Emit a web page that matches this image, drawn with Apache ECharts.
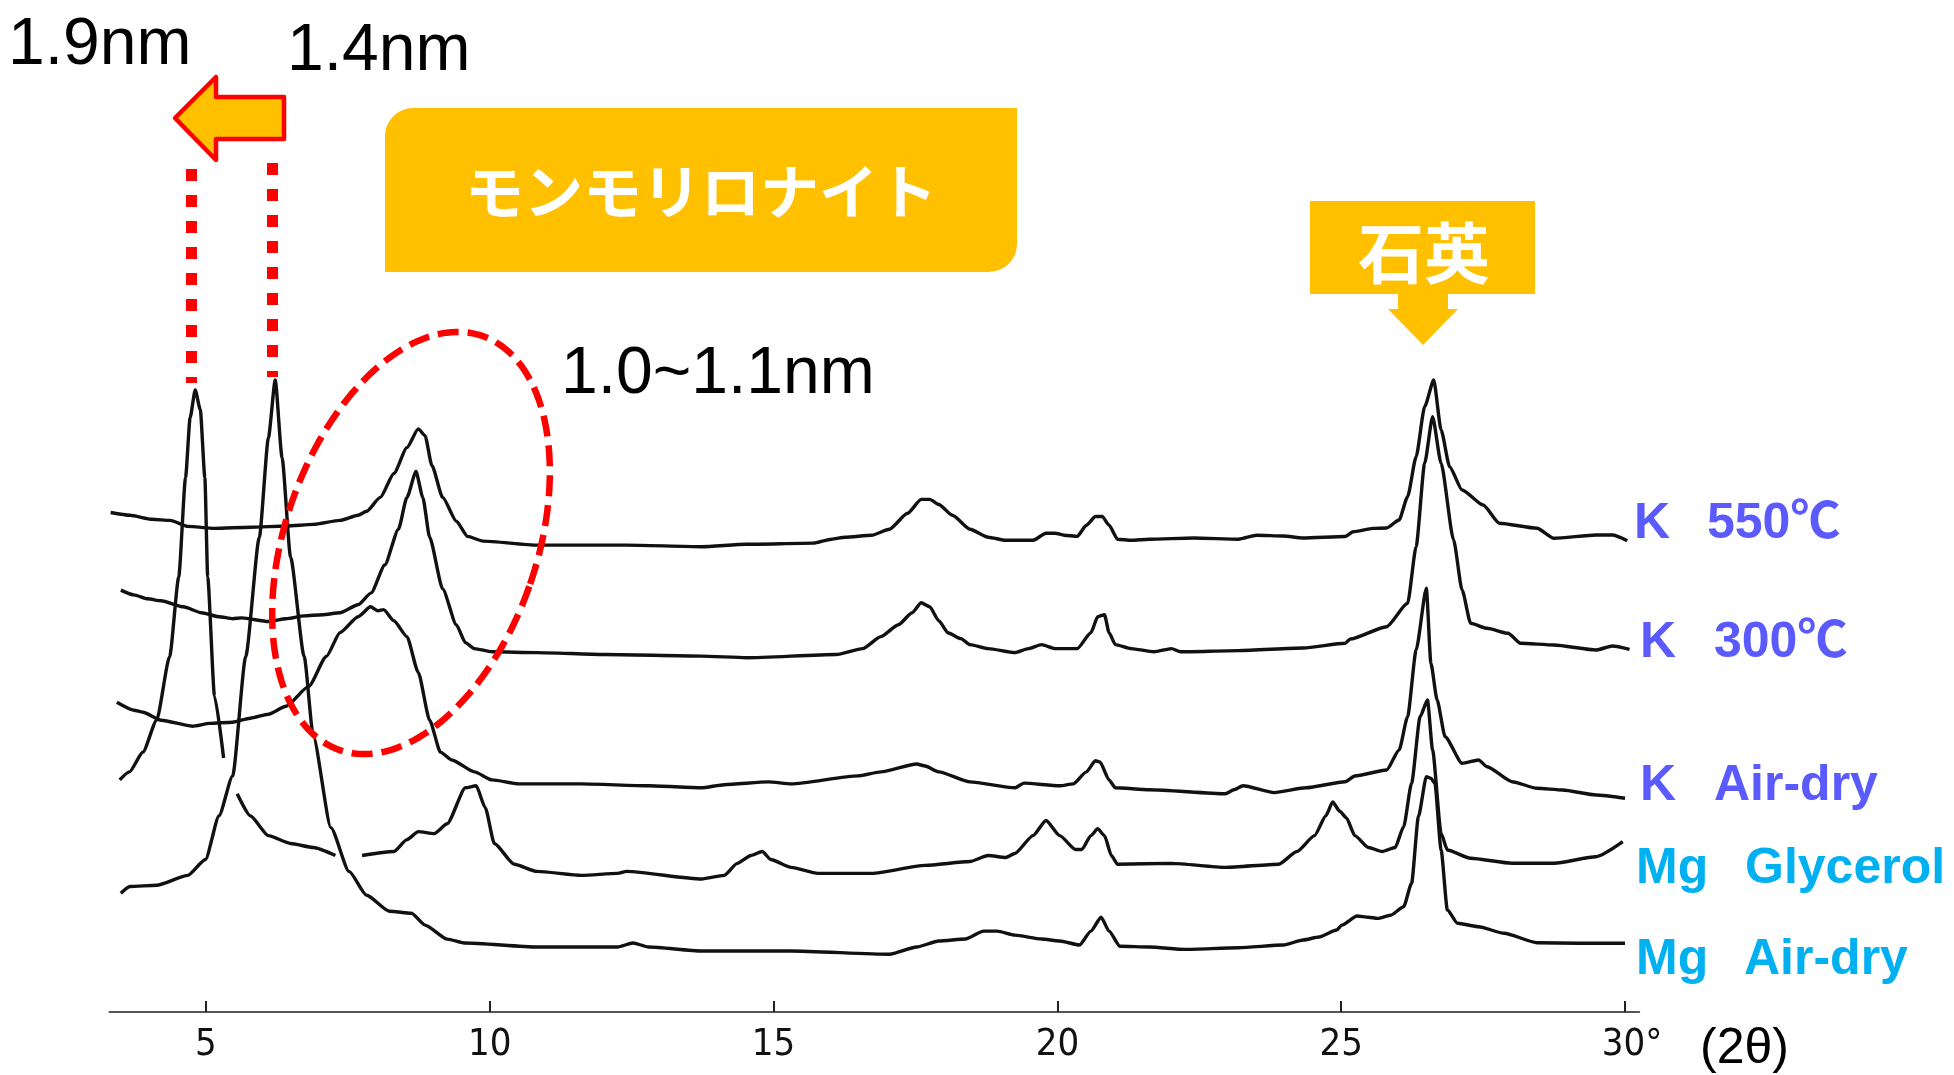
<!DOCTYPE html>
<html>
<head>
<meta charset="utf-8">
<title>XRD モンモリロナイト</title>
<script src="https://cdn.jsdelivr.net/npm/echarts@6/dist/echarts.min.js"></script>
<style>
  html, body { margin: 0; padding: 0; background: #ffffff; }
  #chart { width: 1954px; height: 1075px; }
</style>
</head>
<body>
<div id="chart"></div>
<script>
// 2θ axis ticks
const tickValues = [5, 10, 15, 20, 25, 30];
const tickLabels = ['5', '10', '15', '20', '25', '30°'];

// Sample treatments, top to bottom (cation  treatment)
const traceNames = ['K  550℃', 'K  300℃', 'K  Air-dry', 'Mg  Glycerol', 'Mg  Air-dry'];

// Stacked diffraction traces: [2θ (deg), intensity incl. vertical offset]
const k550 = [
  [3.32,499.5],[3.66,496.7],[4.05,492.7],[4.37,491.6],[4.68,485.6],[5.15,483.6],[5.78,484.8],[6.42,486],
  [6.89,487.6],[7.36,491.6],[7.68,496.7],[7.83,500.7],[8.07,514.6],[8.31,538.5],[8.54,564.4],[8.74,583.1],
  [8.86,576.3],[8.98,546.5],[9.17,514.6],[9.41,490.8],[9.61,475.6],[9.88,470.9],[10.83,466.9],[12.41,466.9],
  [13.73,465.3],[14.52,467.7],[15.70,468.9],[16.02,472.8],[16.26,474.8],[16.73,476.8],[17.04,482.8],[17.36,498.7],
  [17.60,512.6],[17.75,512.6],[17.91,507.5],[18.15,496.7],[18.46,482.8],[18.78,474.8],[19.09,471.7],[19.57,471.7],
  [19.80,478.8],[19.96,478.8],[20.12,476.8],[20.35,475.6],[20.51,486.8],[20.67,495.5],[20.79,495.5],[20.91,486.8],
  [21.06,472.8],[21.30,471.7],[21.62,472.8],[22.40,474.0],[23.19,472.8],[23.51,476.8],[23.98,476.0],[24.33,474],
  [25.07,475.5],[25.21,480.3],[25.56,483.6],[25.80,484],[26.02,492],[26.17,515.3],[26.32,555.3],[26.47,605.3],
  [26.63,632],[26.76,582],[26.91,545.3],[27.13,522],[27.50,507],[27.79,488.7],[28.45,483.7],[28.75,473.7],
  [29.49,477],[29.78,477],[30.04,471.3]
];
const k300 = [
  [3.50,421.9],[3.73,417.1],[3.97,413.2],[4.21,411.2],[4.60,405.2],[4.92,399.2],[5.23,395.3],[5.47,393.3],
  [5.63,394.1],[6.10,390.5],[6.41,393.3],[6.73,396.1],[7.05,397.3],[7.36,399.2],[7.68,407.2],[7.91,419.1],
  [8.15,447.0],[8.39,482.8],[8.54,514.6],[8.70,540.5],[8.82,514.6],[8.94,474.8],[9.17,423.1],[9.41,387.3],
  [9.57,369.4],[9.73,363.4],[10.04,360.2],[10.83,359.4],[12.01,357.5],[13.73,355.9],[14.52,354.3],[16.10,357.5],
  [16.57,363.4],[16.89,375.4],[17.20,387.3],[17.44,399.2],[17.60,409.2],[17.75,405.2],[17.91,391.3],[18.07,379.3],
  [18.30,373.4],[18.46,367.4],[18.78,363.4],[19.25,359.4],[19.49,363.4],[19.72,367.4],[19.96,363.4],[20.35,363.4],
  [20.59,379.3],[20.71,395.3],[20.83,397.3],[20.91,379.3],[21.02,367.4],[21.30,363.4],[21.70,360.2],[22.01,363.4],
  [22.17,360.2],[23.19,361.4],[24.33,364],[25.07,368.7],[25.16,373],[25.80,385.3],[26.17,408.7],[26.32,465.3],
  [26.47,548.7],[26.61,595.3],[26.76,548.7],[26.98,472],[27.13,422],[27.28,388.7],[27.57,383.7],[27.94,378.7],
  [28.16,368.7],[28.75,367],[29.49,362],[29.78,366],[30.08,362.7]
];
const kAirDry = [
  [3.43,309.7],[3.73,301.8],[3.89,299.8],[4.21,291.8],[4.76,285.8],[5.07,288.6],[5.47,289.8],[5.78,293.8],
  [6.10,297.8],[6.41,305.7],[6.81,325.6],[7.12,355.5],[7.36,379.3],[7.68,395.3],[7.90,405.2],[8.03,401.2],
  [8.13,402.4],[8.31,391.3],[8.54,375.4],[8.74,339.6],[8.94,291.8],[9.13,259.9],[9.33,252],[9.73,240.1],
  [10.04,232.1],[10.51,228.1],[11.62,228.1],[12.80,226.2],[13.73,224.2],[14.13,227.3],[14.91,230.1],[15.31,228.1],
  [16.49,236.1],[16.89,240.1],[17.52,248.0],[17.67,246.0],[17.91,240.1],[18.46,230.1],[19.25,224.2],[19.41,228.9],
  [20.04,226.2],[20.28,228.1],[20.51,240.1],[20.67,251.2],[20.75,250.0],[20.91,232.1],[21.02,224.2],[21.62,222.2],
  [22.96,218.2],[23.11,222.2],[23.27,226.2],[23.82,219.4],[24.38,224.2],[25.07,230.3],[25.24,236],[25.80,242],
  [26.02,262],[26.17,295.3],[26.32,362],[26.50,423.7],[26.58,348.7],[26.69,312],[26.83,275.3],[27.13,248.7],
  [27.42,252],[27.57,245.3],[28.01,230.3],[28.45,223.7],[28.90,222],[29.49,217],[30.00,213.7]
];
const mgGlycerol = [
  [3.48,232.1],[3.65,240.1],[3.89,260],[4.13,291.8],[4.36,355.5],[4.52,435.0],[4.64,534.5],[4.72,594.2],
  [4.81,622.1],[4.90,602.2],[4.98,534.5],[5.03,435.0],[5.15,315.7],[5.31,254.0],[5.43,'-'],[5.55,218.2],
  [5.78,196.3],[6.10,176.4],[6.49,168.5],[6.89,164.5],[7.28,156.5],[7.50,'-'],[7.75,156.5],[8.31,160.5],
  [8.54,172.4],[8.74,180.4],[9.02,178.4],[9.25,188.3],[9.57,224.2],[9.76,226.2],[9.92,204.3],[10.08,168.5],
  [10.43,147.8],[10.83,140.6],[11.62,136.6],[12.25,138.6],[12.41,140.6],[13.73,133],[14.13,136.6],[14.36,148.6],
  [14.60,156.5],[14.80,160.5],[14.95,152.5],[15.31,144.6],[15.78,138.6],[16.73,138.6],[17.67,146.6],[18.46,150.5],
  [18.78,156.5],[19.09,154.5],[19.25,158.5],[19.57,176.4],[19.80,191.5],[20.04,176.4],[20.32,162.5],[20.43,162.5],
  [20.59,176.4],[20.71,183.2],[20.83,176.4],[20.95,156.5],[21.06,147.8],[22.01,148.6],[22.96,144.6],[23.90,147.8],
  [24.22,160.5],[24.53,176.4],[24.73,196.3],[24.85,210],[24.97,201],[25.09,194.3],[25.24,176.4],[25.48,164.5],
  [25.72,160.5],[25.95,164.5],[26.10,185.3],[26.24,228.7],[26.39,295.3],[26.52,312],[26.61,262],[26.76,178.7],
  [26.87,162],[27.28,153.7],[28.01,148.7],[28.75,148.7],[29.49,155.3],[29.96,170.3]
];
const mgAirDry = [
  [3.50,118.7],[3.66,125.5],[4.13,126.7],[4.68,136.6],[4.99,152.5],[5.23,196.3],[5.47,236.1],[5.70,355.5],
  [5.94,474.8],[6.10,574.3],[6.22,632],[6.34,554.4],[6.49,454.9],[6.73,355.5],[6.89,275.9],[7.20,184.4],
  [7.52,140.6],[7.83,116.7],[8.23,100.8],[8.62,98.8],[8.86,86.9],[9.25,72.9],[9.57,69.0],[10.83,65.0],
  [12.25,65.0],[12.52,69.0],[12.80,65.0],[13.73,61.0],[15.31,61.0],[17.04,57.8],[17.52,65.0],[17.91,71.0],
  [18.38,73.0],[18.70,80.9],[18.94,80.9],[19.25,76.9],[19.72,73.0],[20.04,71.0],[20.39,67.0],[20.59,80.9],
  [20.77,94.8],[20.91,80.9],[21.10,65.8],[21.62,65.0],[22.25,62.6],[23.19,64.2],[23.98,67.0],[24.33,72],
  [24.61,75.0],[24.92,82],[25.01,86.9],[25.28,96],[25.48,94.8],[25.64,93.6],[25.87,96.8],[26.10,105.3],
  [26.24,128.7],[26.36,195.3],[26.50,235.3],[26.58,233.7],[26.65,228.7],[26.76,162],[26.87,102],[27.05,88.7],
  [27.42,85.3],[27.87,78.7],[28.45,69.3],[29.19,68.7],[30.00,68.7]
];

// Dotted guides at the 1.9 nm and 1.4 nm basal reflections: [2θ, lower, upper]
const guide19 = [4.735, 629, 843];
const guide14 = [6.167, 635, 849];

const traces = [k550, k300, kAirDry, mgGlycerol, mgAirDry];

// Rotated ellipse outline (dashed ring around the 1.0–1.1 nm region)
function ellipsePoints(cx, cy, a, b, deg, n) {
  const r = deg * Math.PI / 180;
  const ux = Math.cos(r), uy = Math.sin(r);      // minor-axis direction
  const vx = Math.sin(r), vy = -Math.cos(r);     // major-axis direction
  const pts = [];
  for (let i = 0; i < n; i++) {
    const t = (i / n) * Math.PI * 2;
    const p = b * Math.cos(t), q = a * Math.sin(t);
    pts.push([cx + p * ux + q * vx, cy + p * uy + q * vy]);
  }
  return pts;
}

const chart = echarts.init(document.getElementById('chart'), null, { renderer: 'canvas' });

const series = traces.map((d, i) => ({
  name: traceNames[i],
  type: 'line',
  data: d,
  showSymbol: false,
  symbol: 'none',
  smooth: 0.2,
  smoothMonotone: 'x',
  connectNulls: false,
  clip: false,
  lineStyle: { color: '#111111', width: 3.4 },
  silent: true,
  z: 2
}));

series[3].markLine = {
  silent: true,
  symbol: ['none', 'none'],
  label: { show: false },
  lineStyle: { color: '#FF0000', width: 11, type: [12, 14], cap: 'butt' },
  data: [
    [{ coord: [guide19[0], guide19[2]] }, { coord: [guide19[0], guide19[1]] }],
    [{ coord: [guide14[0], guide14[2]] }, { coord: [guide14[0], guide14[1]] }]
  ]
};

const labelFont = '"Liberation Sans", Arial, "Noto Sans CJK JP", sans-serif';
const kColor = '#5A5AFF';
const mgColor = '#00B0F0';
// [cation x, treatment x, centre y, colour]
const labelPos = [
  [1634, 1707, 524, kColor],
  [1640, 1714, 643, kColor],
  [1640, 1714, 786, kColor],
  [1636, 1745, 869, mgColor],
  [1636, 1744, 960, mgColor]
];

const graphic = [];
labelPos.forEach((p, i) => {
  const parts = traceNames[i].split(/\s+/);
  [[parts[0], p[0]], [parts.slice(1).join(' '), p[1]]].forEach(([txt, x]) => {
    graphic.push({
      type: 'text', x: x, y: p[2], z: 50,
      style: { text: txt, fill: p[3], fontSize: 50, fontWeight: 'bold', fontFamily: labelFont,
               align: 'left', verticalAlign: 'middle' }
    });
  });
});

// d-spacing captions
[['1.9nm', 8, 46], ['1.4nm', 287, 52], ['1.0~1.1nm', 561, 375]].forEach(t => {
  graphic.push({
    type: 'text', x: t[1], y: t[2], z: 50,
    style: { text: t[0], fill: '#000', fontSize: 66, fontFamily: labelFont, align: 'left', verticalAlign: 'middle' }
  });
});

// left-pointing shift arrow
graphic.push({
  type: 'polygon', z: 50,
  shape: { points: [[175, 118], [216, 77], [216, 97], [284, 97], [284, 139], [216, 139], [216, 160]] },
  style: { fill: '#FFC000', stroke: '#FF0000', lineWidth: 4.5, lineJoin: 'round' }
});

// mineral name box
graphic.push({
  type: 'rect', z: 50,
  shape: { x: 385, y: 108, width: 632, height: 164, r: [28, 0, 28, 0] },
  style: { fill: '#FFC000' }
});
graphic.push({
  type: 'text', x: 701, y: 192, z: 51,
  style: { text: 'モンモリロナイト', fill: '#fff', fontSize: 59, fontWeight: 'bold',
           fontFamily: '"Noto Sans CJK JP", sans-serif', align: 'center', verticalAlign: 'middle' }
});

// quartz callout with downward pointer
graphic.push({
  type: 'polygon', z: 50,
  shape: { points: [[1310, 201], [1535, 201], [1535, 294], [1448, 294], [1448, 309], [1458, 309], [1423, 345],
                    [1388, 309], [1398, 309], [1398, 294], [1310, 294]] },
  style: { fill: '#FFC000' }
});
graphic.push({
  type: 'text', x: 1424, y: 253, z: 51,
  style: { text: '石英', fill: '#fff', fontSize: 66, fontWeight: 'bold', fontFamily: '"Noto Sans CJK JP", sans-serif',
           align: 'center', verticalAlign: 'middle' }
});

// dashed ellipse
graphic.push({
  type: 'polygon', z: 60,
  shape: { points: ellipsePoints(411, 543, 219, 126, 19, 180) },
  style: { fill: 'none', stroke: '#FF0000', lineWidth: 6.5, lineDash: [21, 9] }
});

// axis unit
graphic.push({
  type: 'text', x: 1700, y: 1049, z: 50,
  style: { text: '(2θ)', fill: '#000', fontSize: 50, fontFamily: labelFont, align: 'left', verticalAlign: 'middle' }
});

const tickFont = '"DejaVu Sans Condensed", "Liberation Sans Narrow", "Liberation Sans", sans-serif';

chart.setOption({
  animation: false,
  backgroundColor: '#ffffff',
  grid: { left: 109.5, right: 314.8, top: 0, bottom: 58, containLabel: false },
  xAxis: {
    type: 'value',
    min: 3.3,
    max: 30.25,
    splitLine: { show: false },
    axisLine: { show: true, lineStyle: { color: '#555555', width: 2 } },
    axisTick: { show: true, inside: true, length: 11, customValues: tickValues,
                lineStyle: { color: '#222', width: 2 } },
    axisLabel: {
      show: true, customValues: tickValues, margin: 9,
      formatter: v => {
        const s = tickLabels[tickValues.indexOf(v)];
        return s.indexOf('°') >= 0 ? '{deg|' + s + '}' : s;
      },
      rich: { deg: { padding: [0, 0, 0, 14], fontSize: 38, color: '#111', fontFamily: tickFont } },
      color: '#111', fontSize: 38,
      fontFamily: tickFont
    }
  },
  yAxis: {
    type: 'value', min: -5, max: 1012, show: false,
    splitLine: { show: false }
  },
  series: series,
  graphic: graphic
});
</script>
</body>
</html>
